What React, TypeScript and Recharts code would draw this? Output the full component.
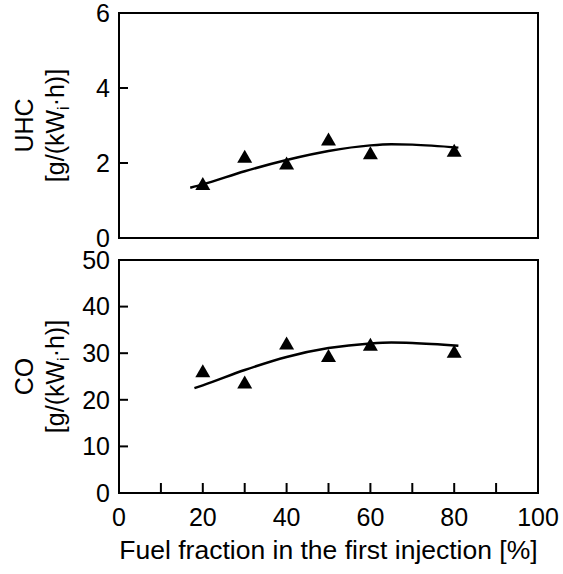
import React from 'react';
import {
  ComposedChart,
  Line,
  Scatter,
  XAxis,
  YAxis,
  ReferenceArea,
} from 'recharts';

// x axis
const xTicks = [0, 10, 20, 30, 40, 50, 60, 70, 80, 90, 100];
const xLabelled = [0, 20, 40, 60, 80, 100];

// measured points (triangles)
const pointX = [20, 30, 40, 50, 60, 80];
const uhcY = [1.44, 2.17, 1.99, 2.63, 2.26, 2.33];
const coY = [26.1, 23.7, 32.1, 29.4, 31.8, 30.3];

// trend curves
const uhcFitX = [17, 20, 30, 40, 50, 60, 65, 70, 81];
const uhcFitY = [1.34, 1.43, 1.78, 2.08, 2.32, 2.47, 2.5, 2.49, 2.41];
const coFitX = [18, 20, 30, 40, 50, 60, 65, 70, 81];
const coFitY = [22.5, 23.1, 26.4, 29.2, 31.1, 32.1, 32.3, 32.2, 31.6];

const uhcTicks = [0, 2, 4, 6];
const coTicks = [0, 10, 20, 30, 40, 50];

const zip = (xs: number[], ys: number[]) => xs.map((x, i) => ({ x, y: ys[i] }));

const uhcPoints = zip(pointX, uhcY);
const coPoints = zip(pointX, coY);
const uhcFit = zip(uhcFitX, uhcFitY);
const coFit = zip(coFitX, coFitY);

const FONT = '"Liberation Sans", Arial, sans-serif';
const W = 563;
const axisStyle = { stroke: '#000', strokeWidth: 2 };
const tickStyle = { fontSize: 25, fill: '#000', fontFamily: FONT };

const Triangle = (props: any) => {
  const { cx, cy } = props;
  if (cx == null || cy == null) return null;
  return (
    <path
      d={`M${cx},${cy - 7} L${cx + 7.5},${cy + 6} L${cx - 7.5},${cy + 6} Z`}
      fill="#000"
    />
  );
};

const yLabel = (title: string) => (props: any) => {
  const vb = props.viewBox || {};
  const cy = vb.y + vb.height / 2;
  return (
    <g fontFamily={FONT} fontSize={25} fill="#000">
      <text x={33} y={cy} transform={`rotate(-90 33 ${cy})`} textAnchor="middle">
        {title}
      </text>
      <text x={64} y={cy} transform={`rotate(-90 64 ${cy})`} textAnchor="middle">
        <tspan>[g/(kW</tspan>
        <tspan dy={5} fontSize={16}>i</tspan>
        <tspan dy={-5}>·h)]</tspan>
      </text>
    </g>
  );
};

const xLabel = (props: any) => {
  const vb = props.viewBox || {};
  return (
    <text
      x={vb.x + vb.width / 2}
      y={vb.y + 66}
      textAnchor="middle"
      fontFamily={FONT}
      fontSize={26.5}
      fill="#000"
    >
      Fuel fraction in the first injection [%]
    </text>
  );
};

export default function App() {
  return (
    <div style={{ position: 'absolute', left: 0, top: 0, width: W, height: 574, background: '#fff' }}>
      <div style={{ position: 'absolute', left: 0, top: 0 }}>
        <ComposedChart width={W} height={256} margin={{ top: 13, right: 25, bottom: 18, left: 0 }}>
          <XAxis dataKey="x" type="number" domain={[0, 100]} ticks={xTicks} hide />
          <YAxis
            type="number"
            domain={[0, 6]}
            ticks={uhcTicks}
            width={119}
            axisLine={axisStyle}
            tickLine={axisStyle}
            tickSize={-9}
            tickMargin={18}
            tick={tickStyle}
            interval={0}
            label={{ content: yLabel('UHC') }}
          />
          <ReferenceArea x1={0} x2={100} y1={0} y2={6} fill="none" stroke="#000" strokeWidth={2} />
          <Line
            data={uhcFit}
            dataKey="y"
            type="monotone"
            stroke="#000"
            strokeWidth={2.5}
            dot={false}
            isAnimationActive={false}
          />
          <Scatter data={uhcPoints} dataKey="y" shape={<Triangle />} isAnimationActive={false} />
        </ComposedChart>
      </div>
      <div style={{ position: 'absolute', left: 0, top: 244 }}>
        <ComposedChart width={W} height={330} margin={{ top: 16, right: 25, bottom: 0, left: 0 }}>
          <XAxis
            dataKey="x"
            type="number"
            domain={[0, 100]}
            ticks={xTicks}
            interval={0}
            height={81}
            axisLine={axisStyle}
            tickLine={axisStyle}
            tickSize={-10}
            tickMargin={25}
            tick={tickStyle}
            tickFormatter={(v: number) => (xLabelled.includes(v) ? String(v) : '')}
            label={{ content: xLabel }}
          />
          <YAxis
            type="number"
            domain={[0, 50]}
            ticks={coTicks}
            width={119}
            axisLine={axisStyle}
            tickLine={axisStyle}
            tickSize={-9}
            tickMargin={18}
            tick={tickStyle}
            interval={0}
            label={{ content: yLabel('CO') }}
          />
          <ReferenceArea x1={0} x2={100} y1={0} y2={50} fill="none" stroke="#000" strokeWidth={2} />
          <Line
            data={coFit}
            dataKey="y"
            type="monotone"
            stroke="#000"
            strokeWidth={2.5}
            dot={false}
            isAnimationActive={false}
          />
          <Scatter data={coPoints} dataKey="y" shape={<Triangle />} isAnimationActive={false} />
        </ComposedChart>
      </div>
    </div>
  );
}
